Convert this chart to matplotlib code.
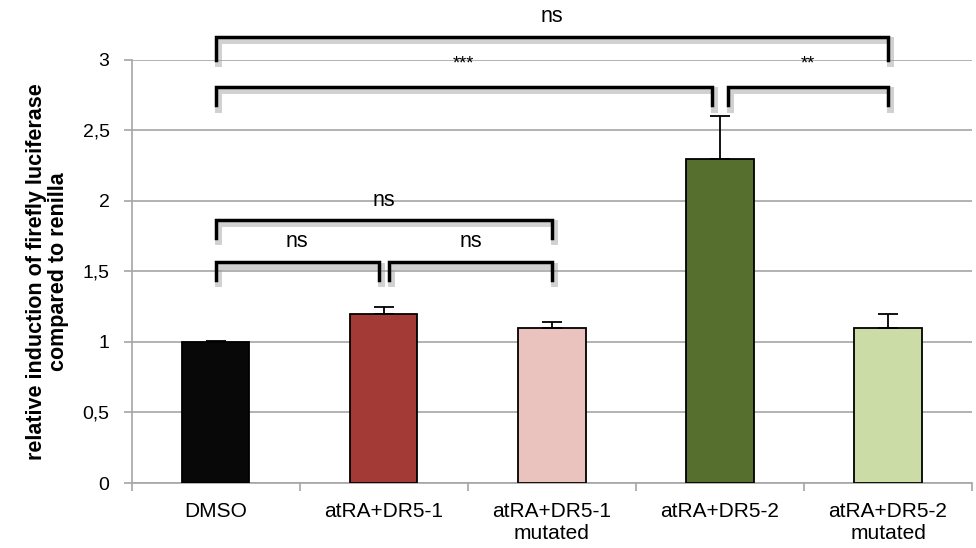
import matplotlib
matplotlib.use("Agg")
import matplotlib.pyplot as plt
import matplotlib.patheffects as pe
import numpy as np

categories = ["DMSO", "atRA+DR5-1", "atRA+DR5-1\nmutated", "atRA+DR5-2", "atRA+DR5-2\nmutated"]
values = [1.0, 1.2, 1.1, 2.3, 1.1]
errors = [0.005, 0.045, 0.04, 0.3, 0.1]
colors = ["#080808", "#a33a36", "#ebc3be", "#566f2f", "#cbdca7"]
ytick_vals = [0, 0.5, 1, 1.5, 2, 2.5, 3]
ytick_labels = ["0", "0,5", "1", "1,5", "2", "2,5", "3"]

# brackets: (start idx offset, end idx offset, top y, bottom y, label, label y)
brackets = [
    (0.0, 4.0, 3.163, 3.0, "ns", 3.31),
    (0.0, 2.95, 2.81, 2.68, "***", 2.97),
    (3.05, 4.0, 2.81, 2.68, "**", 2.97),
    (0.0, 2.0, 1.865, 1.74, "ns", 2.0),
    (0.0, 0.97, 1.567, 1.44, "ns", 1.71),
    (1.03, 2.0, 1.567, 1.44, "ns", 1.71),
]

plt.rcParams['font.family'] = ['Liberation Sans', 'DejaVu Sans']

fig = plt.figure(figsize=(9.76, 5.48), dpi=100)
ax = fig.add_axes([0.135, 0.1186, 0.861, 0.772])

x = np.arange(len(categories))
ax.set_axisbelow(True)
ax.yaxis.grid(True, color="#a6a6a6", linewidth=1.2)
ax.bar(x, values, width=0.4, color=colors, edgecolor="black", linewidth=1.3, zorder=3)
ax.errorbar(x, values, yerr=[np.zeros(len(errors)), errors], fmt="none",
            ecolor="black", elinewidth=1.3, capsize=7, capthick=1.3, zorder=4)

ax.set_xlim(-0.5, len(categories) - 0.5)
ax.set_ylim(0, 3)
ax.set_yticks(ytick_vals)
ax.set_yticklabels(ytick_labels, fontsize=14)
ax.set_xticks(x)
ax.set_xticklabels(categories, fontsize=15, linespacing=1.15)
ax.tick_params(axis='x', length=0, pad=14)
ax.set_xticks(np.arange(-0.5, len(categories), 1), minor=True)
ax.tick_params(axis='x', which='minor', length=6, color="#a6a6a6", width=1.2)
ax.tick_params(axis='y', length=6, color="#a6a6a6", width=1.2, pad=10)

for s in ["top", "right"]:
    ax.spines[s].set_visible(False)
for s in ["left", "bottom"]:
    ax.spines[s].set_color("#a6a6a6")
    ax.spines[s].set_linewidth(1.2)

ax.set_ylabel("relative induction of firefly luciferase\ncompared to renilla",
              fontsize=15.5, fontweight="bold", labelpad=10, linespacing=1.05)

shadow = [pe.SimpleLineShadow(offset=(1.5, -2.5), shadow_color="#9a9a9a", alpha=0.45, linewidth=5), pe.Normal()]
for x0, x1, ytop, ybot, lab, ly in brackets:
    ax.plot([x0, x0, x1, x1], [ybot, ytop, ytop, ybot], color="black", linewidth=2.5,
            clip_on=False, zorder=5, solid_joinstyle="miter", path_effects=shadow)
    ax.text((x0 + x1) / 2, ly, lab, ha="center", va="center",
            fontsize=15.5 if lab == "ns" else 13, clip_on=False)

fig.savefig("out.png", dpi=100)
